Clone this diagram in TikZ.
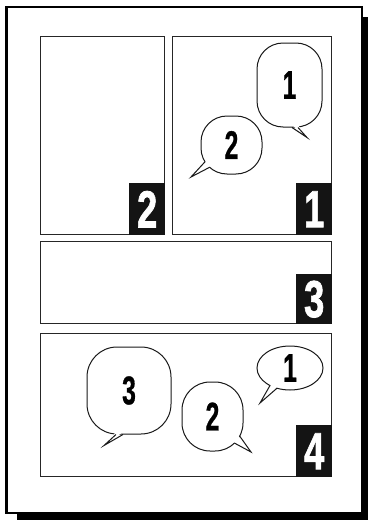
\documentclass[tikz,border=0pt]{standalone}
\usepackage{fontspec}
\setmainfont{Liberation Sans}
\newfontface\heavyface[FakeBold=1.6]{Liberation Sans Bold}
\newfontface\midface[FakeBold=0.8]{Liberation Sans Bold}
\usepackage{graphicx}
\usetikzlibrary{calc,shapes.geometric}
\tikzset{
  panel/.style={draw=black!85, line width=1.4pt, inner sep=0, anchor=north west},
  numbox/.style={fill=black!92, minimum width=36pt, inner sep=0, text=white, anchor=south east},
  bubble/.style={draw=black!90, line width=1pt, fill=white, inner sep=0},
  tail/.style={draw=black!90, line width=1pt, line join=miter},
}
\newcommand{\boxdigit}[1]{\raisebox{-2pt}{\scalebox{0.7}[1]{\fontsize{52}{52}\heavyface #1}}}
\newcommand{\bubdigit}[1]{\scalebox{0.62}[1]{\fontsize{40}{40}\midface #1}}
\begin{document}
\begin{tikzpicture}[x=1pt,y=-1pt]
\useasboundingbox (0,0) rectangle (370,522);
% page with shadow
\fill[black] (17,17) rectangle (368,520);
\draw[fill=white, line width=2.6pt] (6.5,7) rectangle (362,513);
% panels
\node[panel, minimum width=124pt, minimum height=198pt] (p2) at (40,36) {};
\node[panel, minimum width=159pt, minimum height=198pt] (p1) at (172,36) {};
\node[panel, minimum width=291pt, minimum height=82pt] (p3) at (40,241) {};
\node[panel, minimum width=291pt, minimum height=143pt] (p4) at (40,333) {};
% number boxes
\node[numbox, minimum height=52pt] (n2) at (p2.south east) {\boxdigit{2}};
\node[numbox, minimum height=52pt] (n1) at (p1.south east) {\boxdigit{1}};
\node[numbox, minimum height=50pt] (n3) at (p3.south east) {\boxdigit{3}};
\node[numbox, minimum height=52pt] (n4) at (p4.south east) {\boxdigit{4}};
% panel 1 bubbles
\node[bubble, rounded corners=26pt, minimum width=65pt, minimum height=84pt] (a1) at (289.5,85) {\bubdigit{1}};
\fill[white] ($(a1.south)+(2.5,-2.5)$) -- ($(a1.south)+(17.5,10)$) -- ($(a1.south)+(8.5,-2.5)$) -- cycle;
\draw[tail] ($(a1.south)+(2.5,0)$) -- ($(a1.south)+(17.5,10)$) -- ($(a1.south)+(8.5,0)$);
\node[bubble, rounded corners=26pt, minimum width=61pt, minimum height=58pt] (a2) at (231.5,145) {\bubdigit{2}};
\fill[white] ($(a2.center)+(-24.8,15.7)$) -- ($(a2.center)+(-40.5,32)$) -- ($(a2.center)+(-20.5,20.8)$) -- cycle;
\draw[tail] ($(a2.center)+(-26.5,16.8)$) -- ($(a2.center)+(-40.5,32)$) -- ($(a2.center)+(-21.9,22.3)$);
% panel 4 bubbles
\node[bubble, rounded corners=30pt, minimum width=84pt, minimum height=87pt] (c3) at (129,390.5) {\bubdigit{3}};
\fill[white] ($(c3.south)+(-13,-2.5)$) -- ($(c3.south)+(-25,11)$) -- ($(c3.south)+(-6,-2.5)$) -- cycle;
\draw[tail] ($(c3.south)+(-13,0)$) -- ($(c3.south)+(-25,11)$) -- ($(c3.south)+(-6,0)$);
\node[bubble, rounded corners=28pt, minimum width=61pt, minimum height=69pt] (c2) at (212.5,416.5) {\bubdigit{2}};
\fill[white] ($(c2.center)+(25.4,18.7)$) -- ($(c2.center)+(38.5,35.5)$) -- ($(c2.center)+(20.6,25.2)$) -- cycle;
\draw[tail] ($(c2.center)+(27.2,19.6)$) -- ($(c2.center)+(38.5,35.5)$) -- ($(c2.center)+(22,26.6)$);
\node[bubble, ellipse, minimum width=66pt, minimum height=44pt] (c1) at (290,368) {\bubdigit{1}};
\fill[white] ($(c1.center)+(-18.5,16)$) -- ($(c1.center)+(-30,35)$) -- ($(c1.center)+(-12.2,18.3)$) -- cycle;
\draw[tail] ($(c1.center)+(-20,17.5)$) -- ($(c1.center)+(-30,35)$) -- ($(c1.center)+(-13,20.2)$);
\end{tikzpicture}
\end{document}
